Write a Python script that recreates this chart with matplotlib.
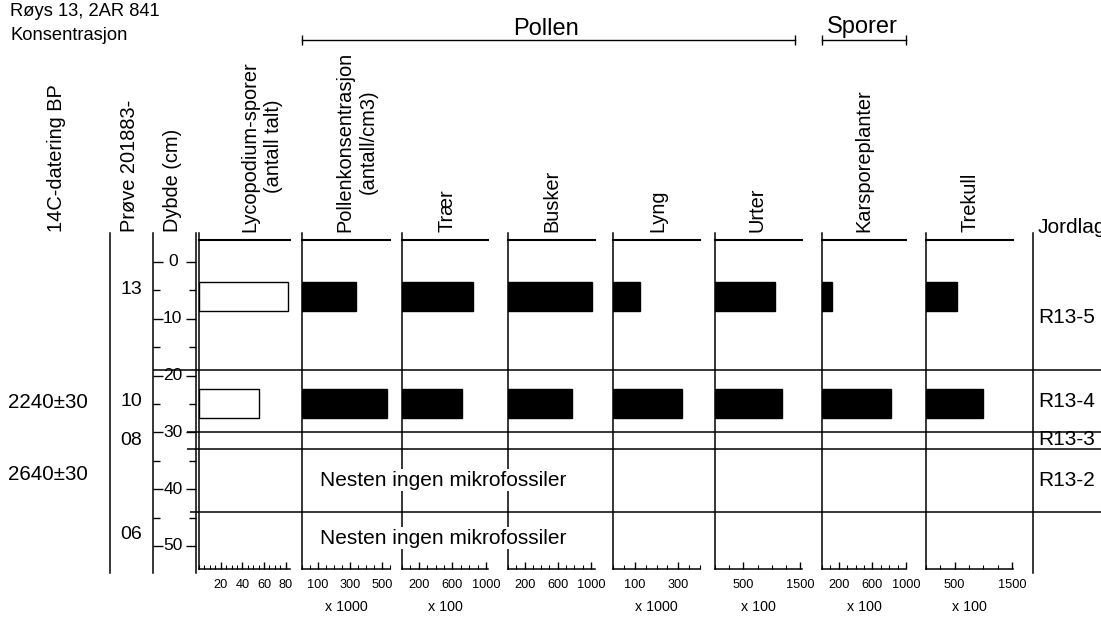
import matplotlib.pyplot as plt
from matplotlib.ticker import MultipleLocator

plt.rcParams['font.family'] = ['Liberation Sans', 'DejaVu Sans']

# header
site = "Røys 13, 2AR 841"
subtitle = "Konsentrasjon"

# diagram columns (left to right)
panel_names = ["Lycopodium-sporer\n(antall talt)", "Pollenkonsentrasjon\n(antall/cm3)",
               "Trær", "Busker", "Lyng", "Urter", "Karsporeplanter", "Trekull"]
panel_max = [84, 550, 1025, 1050, 400, 1535, 1000, 1520]
panel_ticks = [[20, 40, 60, 80], [100, 300, 500], [200, 600, 1000], [200, 600, 1000],
               [100, 300], [500, 1500], [200, 600, 1000], [500, 1500]]
panel_minor = [5, 50, 100, 100, 50, 250, 100, 250]
panel_mult = ["", "x 1000", "x 100", "", "x 1000", "x 100", "x 100", "x 100"]

# counted samples (13 and 10)
counted_depth = [6.05, 24.95]
lycopodium = [82, 55]
pollen_conc = [340, 530]
traer = [845, 715]
busker = [1010, 770]
lyng = [124, 317]
urter = [1060, 1180]
karspore = [118, 824]
trekull = [541, 995]
values = [lycopodium, pollen_conc, traer, busker, lyng, urter, karspore, trekull]

sample_ids = ["13", "10", "08", "06"]
sample_depth = [4.8, 24.5, 31.5, 48]
dates = ["2240±30", "2640±30"]
date_depth = [24.8, 37.5]

depth_ticks = [0, 10, 20, 30, 40, 50]
depth_minor = [5, 15, 25, 35, 45]

zone_names = ["R13-5", "R13-4", "R13-3", "R13-2"]
zone_label_depth = [9.7, 24.6, 31.3, 38.4]
zone_bounds = [19, 30, 33, 44]
no_fossil_depth = [38.4, 48.6]
no_fossil_text = "Nesten ingen mikrofossiler"

# layout in pixels
W, H = 1101, 621
panel_left = [199, 302, 402, 508, 613, 715, 822, 926]
panel_right = [290, 390, 488, 595, 700, 802, 906, 1013]
title_x = [261.5, 356.5, 447, 552, 658, 757, 864, 970]
zone_x0 = [153, 187, 187, 190]
depth_lim = (54.05, -3.87)
depth_top_ext = -5.1
depth_bot_ext = 54.75
LW = 1.1

fig = plt.figure(figsize=(W / 100, H / 100), dpi=100)


def box(x0, x1, y0=240, y1=569):
    return [x0 / W, 1 - y1 / H, (x1 - x0) / W, (y1 - y0) / H]


# whole-figure frame in pixel units for header and column titles
frame = fig.add_axes([0, 0, 1, 1])
frame.set_xlim(0, W)
frame.set_ylim(H, 0)
frame.axis('off')
frame.text(10, 12, site, va='center', fontsize=13.2)
frame.text(10, 36, subtitle, va='center', fontsize=13.2)

frame.plot([302, 795], [40, 40], color='k', lw=1, marker='|', ms=7)
frame.text(546, 35, "Pollen", ha='center', va='baseline', fontsize=17)
frame.plot([822, 906], [40, 40], color='k', lw=1, marker='|', ms=7)
frame.text(862, 33, "Sporer", ha='center', va='baseline', fontsize=17)

frame.plot([110, 110], [233, 573], color='k', lw=LW)
frame.plot([1033, 1033], [233, 573], color='k', lw=LW)
frame.text(1038, 233, "Jordlag", va='baseline', fontsize=15)

for txt, x in [("14C-datering BP", 56), ("Prøve 201883-", 129.5), ("Dybde (cm)", 173)]:
    frame.text(x, 232, txt, rotation=90, ha='center', va='bottom', fontsize=14.4)
for txt, x in zip(panel_names, title_x):
    frame.text(x, 232, txt, rotation=90, ha='center', va='bottom',
               fontsize=14.4, linespacing=1.3)

# sample numbers and radiocarbon dates
left = fig.add_axes(box(0, 153))
left.set_xlim(0, 153)
left.set_ylim(depth_lim)
left.axis('off')
for s, d in zip(sample_ids, sample_depth):
    left.text(131, d, s, ha='center', va='center', fontsize=14)
for s, d in zip(dates, date_depth):
    left.text(8, d, s, ha='left', va='center', fontsize=14.8)

# depth scale
dax = fig.add_axes(box(153, 196))
dax.set_xlim(0, 1)
dax.set_ylim(depth_lim)
dax.patch.set_alpha(0)
for sp in dax.spines.values():
    sp.set_visible(False)
for x in (0, 1):
    dax.plot([x, x], [depth_top_ext, depth_bot_ext], color='k', lw=LW, clip_on=False)
dax.set_xticks([])
dax.set_yticks(depth_ticks)
dax.set_yticks(depth_minor, minor=True)
dax.tick_params(axis='y', which='both', left=True, right=True, direction='in',
                labelleft=False, width=1)
dax.tick_params(axis='y', which='major', length=7)
dax.tick_params(axis='y', which='minor', length=5)
for d in depth_ticks:
    dax.text(0.46, d, str(d), ha='center', va='center', fontsize=12.5)

# one panel per variable
for i in range(len(panel_names)):
    ax = fig.add_axes(box(panel_left[i], panel_right[i]))
    ax.set_xlim(0, panel_max[i])
    ax.set_ylim(depth_lim)
    ax.patch.set_alpha(0)
    face = 'white' if i == 0 else 'black'
    ax.barh(counted_depth, values[i], height=5.1, color=face, edgecolor='black', lw=1)
    ax.spines['right'].set_visible(False)
    ax.spines['left'].set_visible(False)
    ax.spines['top'].set_linewidth(1.5)
    ax.spines['bottom'].set_linewidth(LW)
    ax.plot([0, 0], [depth_top_ext, depth_lim[0]], color='k', lw=LW, clip_on=False)
    ax.set_yticks([])
    ax.set_xticks(panel_ticks[i])
    ax.xaxis.set_minor_locator(MultipleLocator(panel_minor[i]))
    ax.tick_params(axis='x', which='major', direction='in', length=5, width=1,
                   pad=7, labelsize=9.2)
    ax.tick_params(axis='x', which='minor', direction='in', length=3, width=0.8)
    if panel_mult[i]:
        ax.set_xlabel(panel_mult[i], fontsize=10.3, labelpad=7)

# zone boundaries and zone labels drawn over the panels
zax = fig.add_axes(box(153, 1101))
zax.set_xlim(153, 1101)
zax.set_ylim(depth_lim)
zax.axis('off')
zax.set_zorder(5)
zax.hlines(zone_bounds, zone_x0, 1101, color='k', lw=LW, zorder=2)
for z, d in zip(zone_names, zone_label_depth):
    zax.text(1038, d, z, ha='left', va='center', fontsize=15, zorder=1)
for d in no_fossil_depth:
    zax.text(320, d, no_fossil_text, ha='left', va='center', fontsize=15,
             bbox=dict(facecolor='white', edgecolor='none', pad=1), zorder=3)

fig.savefig("out.png", dpi=100)
